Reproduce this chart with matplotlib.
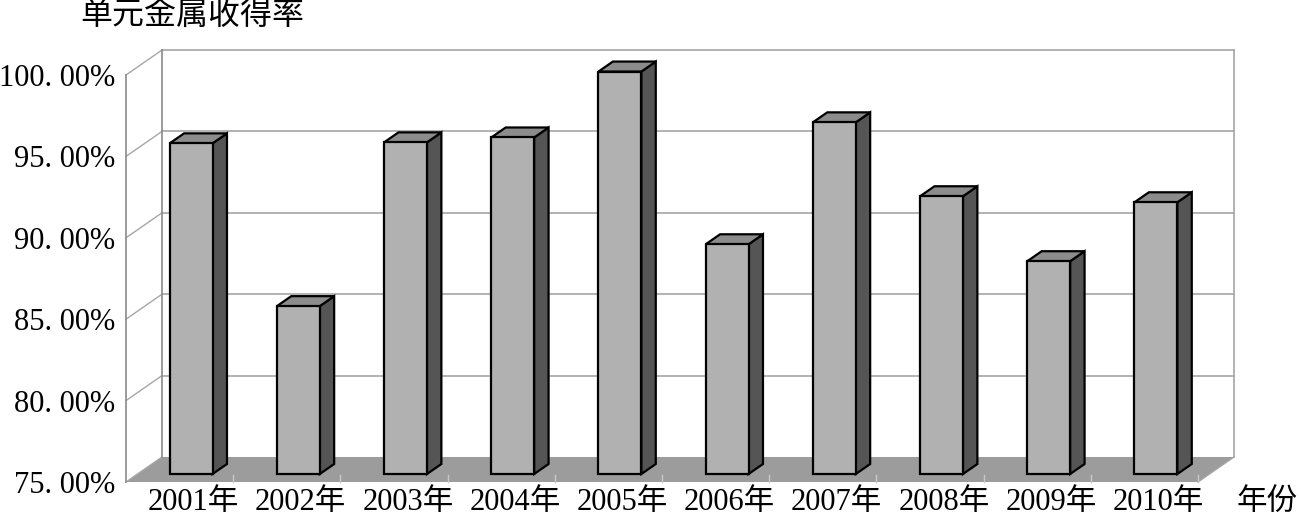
import numpy as np
import matplotlib
matplotlib.use('Agg')
from matplotlib import pyplot as plt
from matplotlib.patches import Polygon

# Data
years = ['2001年', '2002年', '2003年', '2004年', '2005年',
         '2006年', '2007年', '2008年', '2009年', '2010年']
rates = [95.31, 85.31, 95.37, 95.67, 99.72, 89.11, 96.60, 92.06, 88.07, 91.69]
y_ticks = [75, 80, 85, 90, 95, 100]
y_tick_labels = ['75. 00%', '80. 00%', '85. 00%', '90. 00%', '95. 00%', '100. 00%']

FONT = ['Liberation Serif', 'Noto Sans CJK SC', 'DejaVu Sans']
plt.rcParams['font.family'] = FONT

# 3d look: depth offset of the back wall, in data units
DX = 0.336
DY = 1.536
D0, D1 = 0.32, 0.72   # bar front / back depth
BAR_W = 0.40
YMIN, YMAX = 75, 100
n = len(rates)


def proj(x, y, d):
    return (x + d * DX, y + d * DY)


def seg(p, q, **kw):
    ax.plot([p[0], q[0]], [p[1], q[1]], clip_on=False, zorder=2, **kw)


fig = plt.figure(figsize=(13.02, 5.19), dpi=100)
ax = fig.add_axes([126 / 1302, 37 / 519, 1072 / 1302, 407 / 519])
ax.set_xlim(0, n)
ax.set_ylim(YMIN, YMAX)
ax.patch.set_visible(False)
for s in ax.spines.values():
    s.set_visible(False)

wall_c = '#8a8a8a'
grid_c = '#a6a6a6'

# floor
floor = Polygon([proj(0, YMIN, 0), proj(n, YMIN, 0), proj(n, YMIN, 1), proj(0, YMIN, 1)],
                closed=True, facecolor='#9c9c9c', edgecolor='none', zorder=1, clip_on=False)
ax.add_patch(floor)

# back wall gridlines and left wall diagonals
for yv in y_ticks:
    if yv > YMIN:
        seg(proj(0, yv, 1), proj(n, yv, 1), color=grid_c, lw=1.2)
    seg(proj(0, yv, 0), proj(0, yv, 1), color=grid_c, lw=1.0)

# wall edges
seg(proj(0, YMIN, 0), proj(0, YMAX, 0), color=wall_c, lw=1.2)
seg(proj(0, YMIN, 1), proj(0, YMAX, 1), color=wall_c, lw=1.2)
seg(proj(n, YMIN, 1), proj(n, YMAX, 1), color=grid_c, lw=1.2)
seg(proj(n, YMIN, 0), proj(n, YMIN, 1), color=grid_c, lw=1.0)

# category boundary ticks on the floor edge
for i in range(1, n + 1):
    seg((i, YMIN), (i, YMIN + 0.45), color='#c8c8c8', lw=1.0)

# bars
xs = np.arange(n) + 0.5
front_x = xs + D0 * DX
base_y = YMIN + D0 * DY
bars = ax.bar(front_x, [r - YMIN for r in rates], width=BAR_W, bottom=base_y,
              color='#b1b1b1', edgecolor='black', linewidth=1.6, zorder=5)
for b in bars:
    b.set_clip_on(False)
for xc, r in zip(xs, rates):
    xl = xc - BAR_W / 2
    xr = xc + BAR_W / 2
    side = Polygon([proj(xr, YMIN, D0), proj(xr, r, D0),
                    proj(xr, r, D1), proj(xr, YMIN, D1)],
                   closed=True, facecolor='#555555', edgecolor='black', lw=1.6,
                   zorder=4, joinstyle='miter', clip_on=False)
    ax.add_patch(side)
    top = Polygon([proj(xl, r, D0), proj(xr, r, D0), proj(xr, r, D1), proj(xl, r, D1)],
                  closed=True, facecolor='#8c8c8c', edgecolor='black', lw=1.6,
                  zorder=4, joinstyle='miter', clip_on=False)
    ax.add_patch(top)

# axes labels
ax.set_yticks(y_ticks)
ax.set_yticklabels(y_tick_labels, fontsize=22)
ax.set_xticks(xs + 0.13)
ax.set_xticklabels(years, fontsize=22)
ax.tick_params(length=0, pad=8)
ax.tick_params(axis='x', pad=4)

fig.text(80 / 1302, 1 - 16 / 519, '单元金属收得率', fontsize=23, va='center', ha='left')
fig.text(1237 / 1302, 1 - 502 / 519, '年份', fontsize=22, va='center', ha='left')

fig.savefig('out.png', dpi=100, facecolor='white')
